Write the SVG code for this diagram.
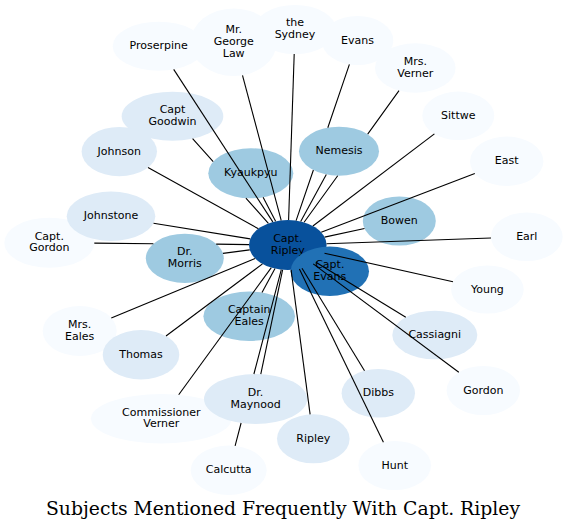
<svg xmlns="http://www.w3.org/2000/svg" width="567" height="530" viewBox="0 0 567 530">
<style>
.n0{fill:#f7fbff}
.n1{fill:#deebf7}
.n2{fill:#9ecae1}
.n3{fill:#2171b5}
.n4{fill:#08519c}
text.l{font-family:"DejaVu Sans",sans-serif;font-size:11px;text-anchor:middle;fill:#000}
#edges path{fill:none;stroke:#000;stroke-width:1.1}
.title{font-family:"DejaVu Serif",serif;font-size:18px;text-anchor:middle;fill:#000}
</style>
<rect width="567" height="530" fill="#fff"/>
<g id="nodes">
<g id="n-proserpine"><ellipse class="n0" cx="158.7" cy="46.2" rx="46" ry="24.5"/><text class="l" x="158.7" y="49.2">Proserpine</text></g>
<g id="n-law"><ellipse class="n0" cx="233.7" cy="42.2" rx="43" ry="33.8"/><text class="l" x="233.7" y="33.2">Mr.</text><text class="l" x="233.7" y="44.9">George</text><text class="l" x="233.7" y="56.6">Law</text></g>
<g id="n-sydney"><ellipse class="n0" cx="295" cy="29.5" rx="41" ry="24.5"/><text class="l" x="295" y="26.3">the</text><text class="l" x="295" y="38">Sydney</text></g>
<g id="n-evans"><ellipse class="n0" cx="357.5" cy="40.5" rx="35.8" ry="24.5"/><text class="l" x="357.5" y="43.5">Evans</text></g>
<g id="n-mrsverner"><ellipse class="n0" cx="415.3" cy="68" rx="40.3" ry="24.7"/><text class="l" x="415.3" y="64.8">Mrs.</text><text class="l" x="415.3" y="76.5">Verner</text></g>
<g id="n-sittwe"><ellipse class="n0" cx="458.3" cy="115.8" rx="36" ry="24.2"/><text class="l" x="458.3" y="118.8">Sittwe</text></g>
<g id="n-east"><ellipse class="n0" cx="506.7" cy="161.3" rx="36.7" ry="24.7"/><text class="l" x="506.7" y="164.3">East</text></g>
<g id="n-earl"><ellipse class="n0" cx="526.8" cy="236.8" rx="35.9" ry="24.3"/><text class="l" x="526.8" y="239.8">Earl</text></g>
<g id="n-young"><ellipse class="n0" cx="487.4" cy="289.5" rx="36.3" ry="24.1"/><text class="l" x="487.4" y="292.5">Young</text></g>
<g id="n-gordon"><ellipse class="n0" cx="483.3" cy="390.5" rx="36.7" ry="24.5"/><text class="l" x="483.3" y="393.5">Gordon</text></g>
<g id="n-hunt"><ellipse class="n0" cx="394.7" cy="465.5" rx="36.3" ry="24.5"/><text class="l" x="394.7" y="468.5">Hunt</text></g>
<g id="n-calcutta"><ellipse class="n0" cx="228.7" cy="470.3" rx="38" ry="24.7"/><text class="l" x="228.7" y="473.3">Calcutta</text></g>
<g id="n-commverner"><ellipse class="n0" cx="161.3" cy="418.7" rx="70.3" ry="24.7"/><text class="l" x="161.3" y="415.5">Commissioner</text><text class="l" x="161.3" y="427.2">Verner</text></g>
<g id="n-mrseales"><ellipse class="n0" cx="79.7" cy="331" rx="37" ry="25"/><text class="l" x="79.7" y="327.8">Mrs.</text><text class="l" x="79.7" y="339.5">Eales</text></g>
<g id="n-captgordon"><ellipse class="n0" cx="49.3" cy="242.7" rx="45" ry="25"/><text class="l" x="49.3" y="239.5">Capt.</text><text class="l" x="49.3" y="251.2">Gordon</text></g>
<g id="n-goodwin"><ellipse class="n1" cx="172.5" cy="116.2" rx="50.8" ry="24.5"/><text class="l" x="172.5" y="113">Capt</text><text class="l" x="172.5" y="124.7">Goodwin</text></g>
<g id="n-johnson"><ellipse class="n1" cx="119.3" cy="151.6" rx="37.7" ry="24.6"/><text class="l" x="119.3" y="154.6">Johnson</text></g>
<g id="n-johnstone"><ellipse class="n1" cx="111" cy="216.3" rx="44.3" ry="24.7"/><text class="l" x="111" y="219.3">Johnstone</text></g>
<g id="n-thomas"><ellipse class="n1" cx="141" cy="354.7" rx="38.3" ry="24.7"/><text class="l" x="141" y="357.7">Thomas</text></g>
<g id="n-maynood"><ellipse class="n1" cx="255.6" cy="399" rx="51.6" ry="25"/><text class="l" x="255.6" y="395.8">Dr.</text><text class="l" x="255.6" y="407.5">Maynood</text></g>
<g id="n-ripley"><ellipse class="n1" cx="313.3" cy="438.8" rx="36.3" ry="24.5"/><text class="l" x="313.3" y="441.8">Ripley</text></g>
<g id="n-dibbs"><ellipse class="n1" cx="378.3" cy="393.3" rx="36.7" ry="24.3"/><text class="l" x="378.3" y="396.3">Dibbs</text></g>
<g id="n-cassiagni"><ellipse class="n1" cx="434.8" cy="335" rx="42.5" ry="24.3"/><text class="l" x="434.8" y="338">Cassiagni</text></g>
<g id="n-kyaukpyu"><ellipse class="n2" cx="250.8" cy="173.3" rx="42.5" ry="25"/><text class="l" x="250.8" y="176.3">Kyaukpyu</text></g>
<g id="n-nemesis"><ellipse class="n2" cx="339" cy="151.2" rx="40" ry="24.5"/><text class="l" x="339" y="154.2">Nemesis</text></g>
<g id="n-bowen"><ellipse class="n2" cx="399.3" cy="221" rx="36.5" ry="24.6"/><text class="l" x="399.3" y="224">Bowen</text></g>
<g id="n-morris"><ellipse class="n2" cx="184.8" cy="258.3" rx="39" ry="24.6"/><text class="l" x="184.8" y="255.1">Dr.</text><text class="l" x="184.8" y="266.8">Morris</text></g>
<g id="n-captaineales"><ellipse class="n2" cx="249.2" cy="316.3" rx="45.8" ry="24.7"/><text class="l" x="249.2" y="313.1">Captain</text><text class="l" x="249.2" y="324.8">Eales</text></g>
<g id="n-captripley"><ellipse class="n4" cx="287.8" cy="245" rx="38.8" ry="25"/><text class="l" x="287.8" y="241.8">Capt.</text><text class="l" x="287.8" y="253.5">Ripley</text></g>
<g id="n-captevans"><ellipse class="n3" cx="329.8" cy="271.3" rx="39.2" ry="24.7"/><text class="l" x="329.8" y="268.1">Capt.</text><text class="l" x="329.8" y="279.8">Evans</text></g>
</g>
<g id="edges">
<path d="M173.7,69.4 L272.8,221.9"/>
<path d="M242.5,75.3 L281.2,220.4"/>
<path d="M294.2,54 L288.6,220"/>
<path d="M349.4,64.4 L327.8,127.7 M313.4,170 L296.1,220.6"/>
<path d="M399,90.6 L367.7,134.1 M337.7,175.7 L304.1,222.3"/>
<path d="M326.3,174.4 L300.7,221.4"/>
<path d="M434.4,133.9 L312.9,226"/>
<path d="M474.8,173.5 L321.2,232.2"/>
<path d="M364.5,228.5 L324.6,237.1"/>
<path d="M491,238 L326.5,243.7"/>
<path d="M453,281.8 L324.5,253.2"/>
<path d="M405.8,317.2 L315.9,262.2"/>
<path d="M458.8,372.3 L313.2,263.9"/>
<path d="M364.5,370.8 L302,268.3"/>
<path d="M383.4,442.2 L299.4,268.9"/>
<path d="M310.1,414.4 L291.1,269.9"/>
<path d="M260.8,374.1 L282.6,269.8"/>
<path d="M235.1,445.9 L241.1,423 M253.9,374 L281.3,269.6"/>
<path d="M262,292.6 L275,268.6"/>
<path d="M178.7,394.8 L271.3,267.6"/>
<path d="M166,336 L262.5,263.9"/>
<path d="M111.3,318 L255.1,258.5"/>
<path d="M223,253.4 L249.7,249.9"/>
<path d="M94.3,243.1 L153.4,243.7 M216.2,244.1 L249,244.6"/>
<path d="M153.5,223.2 L250.2,238.9"/>
<path d="M148,167.5 L258.4,228.7"/>
<path d="M192.6,138.7 L213.2,161.7 M245.9,198.1 L268.4,223.3"/>
<path d="M263.1,197.2 L275.6,221.3"/>
</g>
<text class="title" x="283" y="515" textLength="474" lengthAdjust="spacingAndGlyphs">Subjects Mentioned Frequently With Capt. Ripley</text>
</svg>
